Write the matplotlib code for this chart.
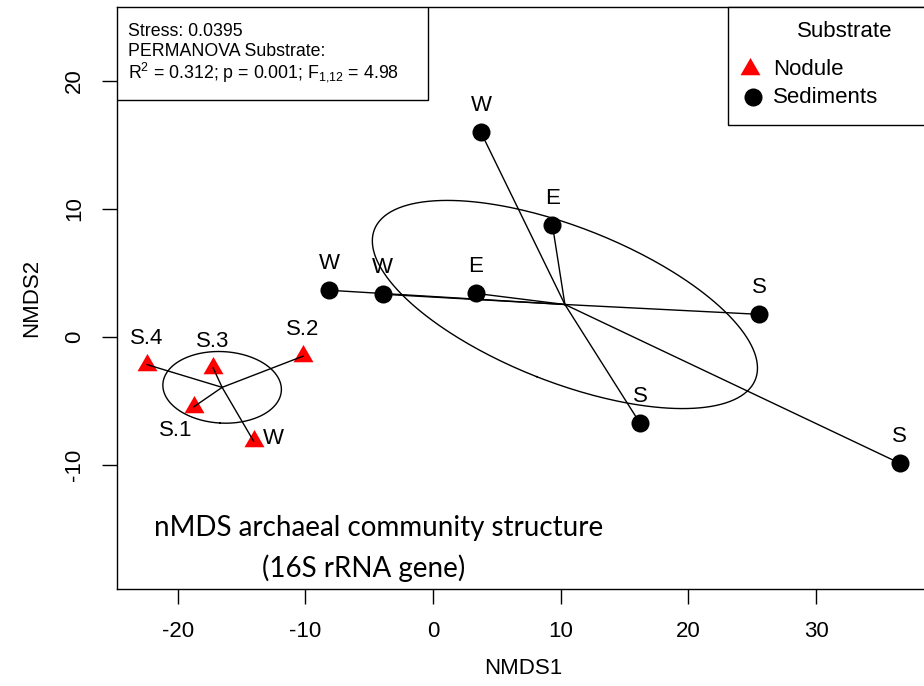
import numpy as np
import matplotlib
matplotlib.use("Agg")
import matplotlib.pyplot as plt
from matplotlib.patches import Rectangle
from matplotlib.path import Path

plt.rcParams["font.family"] = ["Liberation Sans", "DejaVu Sans"]
plt.rcParams["mathtext.fontset"] = "custom"
plt.rcParams["mathtext.rm"] = "Liberation Sans"
plt.rcParams["mathtext.it"] = "Liberation Sans:italic"
plt.rcParams["mathtext.default"] = "regular"

# nMDS site scores
nodule_x = [-22.39, -17.22, -10.18, -18.74, -14.05]
nodule_y = [-2.16, -2.42, -1.50, -5.46, -8.14]
nodule_labels = ["S.4", "S.3", "S.2", "S.1", "W"]

sediment_x = [3.75, 9.35, -8.15, -3.95, 3.33, 25.52, 16.21, 36.56]
sediment_y = [15.99, 8.75, 3.65, 3.34, 3.41, 1.77, -6.74, -9.87]
sediment_labels = ["W", "E", "W", "W", "E", "S", "S", "S"]

stress = 0.0395
perm_r2, perm_p, perm_f, perm_df1, perm_df2 = 0.312, 0.001, 4.98, 1, 12

x_ticks = [-20, -10, 0, 10, 20, 30]
y_ticks = [-10, 0, 10, 20]

# label placement (offset in points) per site
nodule_offsets = [(0, 19), (0, 19), (0, 19), (-13, -17), (7, 2)]
nodule_ha = ["center", "center", "center", "center", "left"]

W, H = 924, 686
fig = plt.figure(figsize=(W / 100, H / 100), dpi=100)
L, R, T, B = 117, 930, 7, 589
ax = fig.add_axes([L / W, (H - B) / H, (R - L) / W, (B - T) / H])


def fx(px):
    return (px - L) / (R - L)


def fy(py):
    return (B - py) / (B - T)


# R-style pch 17: equilateral triangle centred on its centroid
tri = Path([(0, 1), (-0.866, -0.5), (0.866, -0.5), (0, 1)],
           [Path.MOVETO, Path.LINETO, Path.LINETO, Path.CLOSEPOLY])

ax.plot(nodule_x, nodule_y, linestyle="none", marker=tri, markersize=16.6,
        color="#ff0000", markeredgewidth=0, zorder=3)
ax.plot(sediment_x, sediment_y, linestyle="none", marker="o", markersize=13,
        color="black", markeredgewidth=0, zorder=3)


def spider_and_ellipse(xs, ys):
    xs = np.asarray(xs)
    ys = np.asarray(ys)
    cx, cy = xs.mean(), ys.mean()
    for x, y in zip(xs, ys):
        ax.plot([cx, x], [cy, y], color="black", lw=1.0, zorder=4)
    cov = np.cov(np.vstack([xs, ys]))
    vals, vecs = np.linalg.eigh(cov)
    t = np.linspace(0, 2 * np.pi, 300)
    circ = np.vstack([np.cos(t), np.sin(t)])
    pts = vecs @ (np.sqrt(vals)[:, None] * circ)
    ax.plot(cx + pts[0], cy + pts[1], color="black", lw=1.0, zorder=4)


spider_and_ellipse(nodule_x, nodule_y)
spider_and_ellipse(sediment_x, sediment_y)

for x, y, lab, off, ha in zip(nodule_x, nodule_y, nodule_labels,
                              nodule_offsets, nodule_ha):
    ax.annotate(lab, (x, y), xytext=off, textcoords="offset points",
                ha=ha, va="center", fontsize=16, zorder=5)
for x, y, lab in zip(sediment_x, sediment_y, sediment_labels):
    ax.annotate(lab, (x, y), xytext=(0, 19), textcoords="offset points",
                ha="center", va="center", fontsize=16, zorder=5)

# axis limits with R's 4% padding
xr = max(nodule_x + sediment_x) - min(nodule_x + sediment_x)
ax.set_xlim(min(nodule_x + sediment_x) - 0.04 * xr,
            max(nodule_x + sediment_x) + 0.04 * xr)
ax.set_ylim(-19.69, 25.78)
ax.set_xticks(x_ticks)
ax.set_yticks(y_ticks)
ax.set_xticklabels([str(v) for v in x_ticks])
ax.set_yticklabels([str(v) for v in y_ticks], rotation=90, va="center")
ax.tick_params(direction="out", length=10.8, width=1.0, labelsize=16,
               color="black")
ax.tick_params(axis="x", pad=12)
ax.tick_params(axis="y", pad=12)
for s in ax.spines.values():
    s.set_linewidth(1.0)

ax.set_xlabel("NMDS1", fontsize=16)
ax.set_ylabel("NMDS2", fontsize=16)
ax.xaxis.set_label_coords(fx(523), fy(668))
ax.xaxis.label.set_va("center")
ax.yaxis.set_label_coords(fx(32), fy(298))
ax.yaxis.label.set_va("center")

# statistics box
ax.add_patch(Rectangle((0, fy(100)), fx(428), 1 - fy(100), transform=ax.transAxes,
                       facecolor="white", edgecolor="black", lw=1.0, zorder=6))
stats_lines = [
    f"Stress: {stress}",
    "PERMANOVA Substrate:",
    rf"R$^2$ = {perm_r2}; p = {perm_p}; F$_{{{perm_df1}{{,}}{perm_df2}}}$ = {perm_f}",
]
for line, by in zip(stats_lines, [36.5, 56.0, 77.0]):
    ax.text(fx(128), fy(by), line, transform=ax.transAxes, fontsize=12.8,
            ha="left", va="baseline", zorder=7)

# legend box
ax.add_patch(Rectangle((fx(728), fy(125)), 1.05 - fx(728), 1 - fy(125),
                       transform=ax.transAxes, facecolor="white",
                       edgecolor="black", lw=1.0, zorder=6, clip_on=False))
ax.text(fx(845), fy(37), "Substrate", transform=ax.transAxes, fontsize=16,
        ha="center", va="baseline", zorder=7)
ax.plot([fx(750)], [fy(69)], transform=ax.transAxes, marker=tri,
        markersize=16.6, color="#ff0000", markeredgewidth=0, zorder=7,
        clip_on=False)
ax.plot([fx(752.7)], [fy(96.7)], transform=ax.transAxes, marker="o",
        markersize=13, color="black", markeredgewidth=0, zorder=7,
        clip_on=False)
ax.text(fx(773), fy(75), "Nodule", transform=ax.transAxes, fontsize=16,
        ha="left", va="baseline", zorder=7)
ax.text(fx(773), fy(103), "Sediments", transform=ax.transAxes, fontsize=16,
        ha="left", va="baseline", zorder=7)

# panel caption
ax.text(fx(379), fy(536), "nMDS archaeal community structure",
        transform=ax.transAxes, fontsize=20, family="Lato",
        ha="center", va="baseline", zorder=7)
ax.text(fx(364), fy(577), "(16S rRNA gene)", transform=ax.transAxes,
        fontsize=20, family="Lato", ha="center", va="baseline", zorder=7)

fig.savefig("out.png", dpi=100)
